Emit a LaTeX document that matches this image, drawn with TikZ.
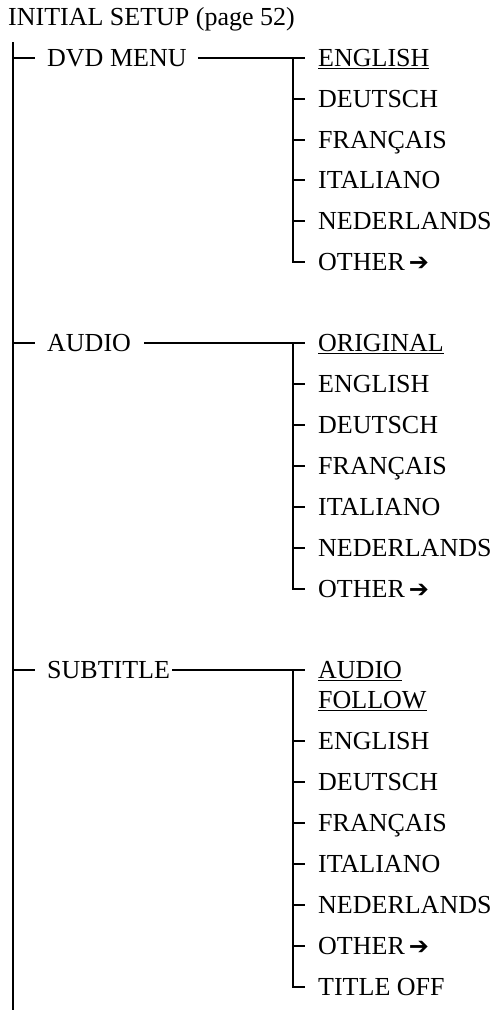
\documentclass[tikz,border=0pt]{standalone}
\usepackage{fontspec}
\setmainfont{Liberation Serif}
\newfontfamily\arrowfont{DejaVu Sans}
\begin{document}
\begin{tikzpicture}[x=1pt,y=-1pt,
  item/.style={inner sep=0pt, anchor=west, text height=17.2pt, text depth=0pt,
    font=\fontsize{26}{30}\selectfont},
  conn/.style={line width=1.1pt, line cap=butt}]
\useasboundingbox (0,0) rectangle (496,1010);
\newcommand{\arw}{\hspace{4pt}{\arrowfont\fontsize{24}{26}\selectfont ➔}}
% title
\node[item] (title) at (8,17) {INITIAL SETUP (page 52)};
% main branches
\node[item] (dvd) at (47,58) {DVD MENU};
\node[item] (aud) at (47,343) {AUDIO};
\node[item] (sub) at (47,670) {SUBTITLE};
% DVD MENU items
\node[item] (d1) at (318,58) {\underline{ENGLISH}};
\node[item] (d2) at (318,99) {DEUTSCH};
\node[item] (d3) at (318,140) {FRANÇAIS};
\node[item] (d4) at (318,180) {ITALIANO};
\node[item] (d5) at (318,221) {NEDERLANDS};
\node[item] (d6) at (318,262) {OTHER\arw};
% AUDIO items
\node[item] (a1) at (318,343) {\underline{ORIGINAL}};
\node[item] (a2) at (318,384) {ENGLISH};
\node[item] (a3) at (318,425) {DEUTSCH};
\node[item] (a4) at (318,466) {FRANÇAIS};
\node[item] (a5) at (318,507) {ITALIANO};
\node[item] (a6) at (318,548) {NEDERLANDS};
\node[item] (a7) at (318,589) {OTHER\arw};
% SUBTITLE items
\node[item] (s1) at (318,670) {\underline{AUDIO}};
\node[item] (s1b) at (318,700) {\underline{FOLLOW}};
\node[item] (s2) at (318,741) {ENGLISH};
\node[item] (s3) at (318,782) {DEUTSCH};
\node[item] (s4) at (318,823) {FRANÇAIS};
\node[item] (s5) at (318,864) {ITALIANO};
\node[item] (s6) at (318,905) {NEDERLANDS};
\node[item] (s7) at (318,946) {OTHER\arw};
\node[item] (s8) at (318,987) {TITLE OFF};
% main vertical
\coordinate (mtop) at (13,42);
\coordinate (mbot) at (13,1010);
\draw[conn] (mtop) -- (mbot);
\foreach \n in {dvd,aud,sub}
  \draw[conn] ([xshift=-34pt]\n.west) -- ([xshift=-12pt]\n.west);
% horizontal links to sub-branches
\draw[conn] ([xshift=11pt]dvd.east) -- ([xshift=-13pt]d1.west);
\draw[conn] ([xshift=13pt]aud.east) -- ([xshift=-13pt]a1.west);
\draw[conn] ([xshift=2pt]sub.east) -- ([xshift=-13pt]s1.west);
% sub-branch verticals
\draw[conn] ([xshift=-25pt]d1.west) -- ([xshift=-25pt]d6.west) -- ([xshift=-13pt]d6.west);
\foreach \n in {d2,d3,d4,d5}
  \draw[conn] ([xshift=-25pt]\n.west) -- ([xshift=-13pt]\n.west);
\draw[conn] ([xshift=-25pt]a1.west) -- ([xshift=-25pt]a7.west) -- ([xshift=-13pt]a7.west);
\foreach \n in {a2,a3,a4,a5,a6}
  \draw[conn] ([xshift=-25pt]\n.west) -- ([xshift=-13pt]\n.west);
\draw[conn] ([xshift=-25pt]s1.west) -- ([xshift=-25pt]s8.west) -- ([xshift=-13pt]s8.west);
\foreach \n in {s2,s3,s4,s5,s6,s7}
  \draw[conn] ([xshift=-25pt]\n.west) -- ([xshift=-13pt]\n.west);
\end{tikzpicture}
\end{document}
